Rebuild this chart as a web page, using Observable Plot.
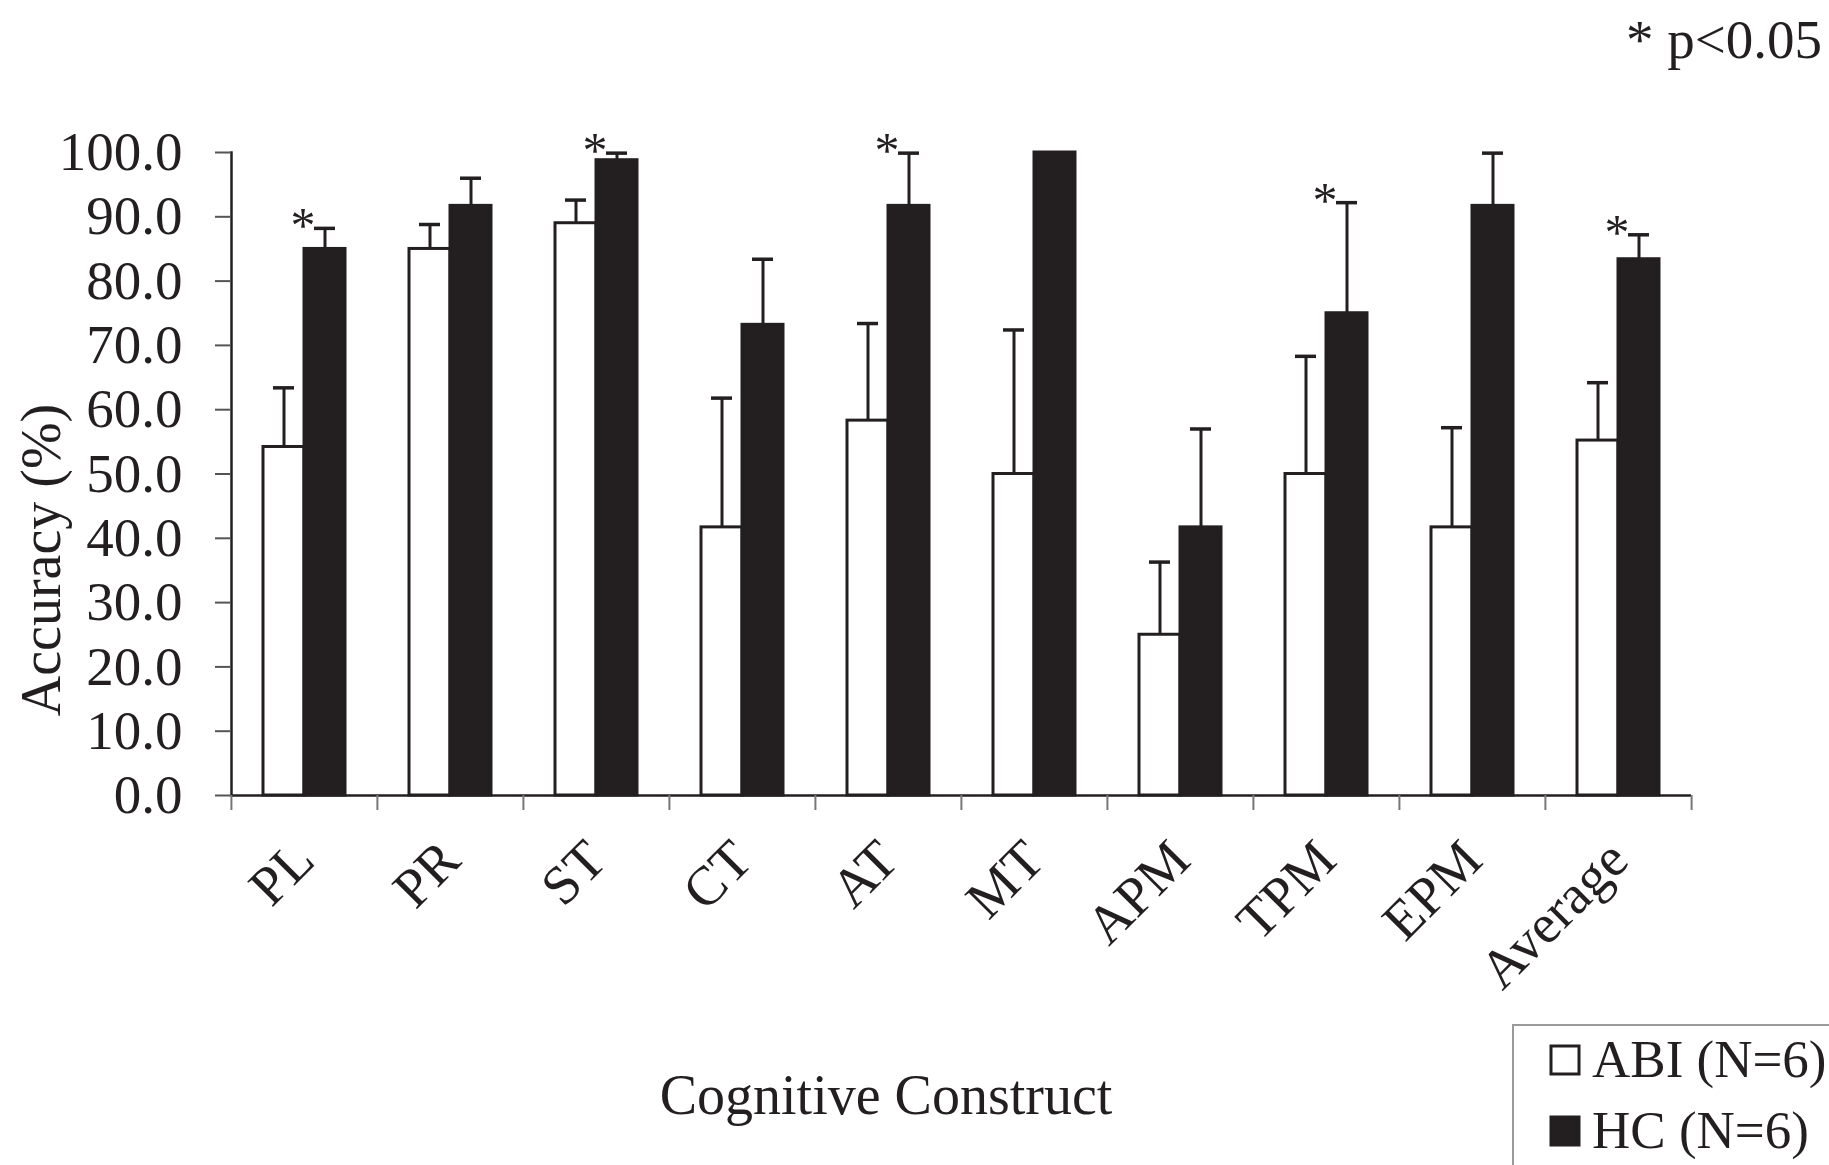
<!DOCTYPE html>
<html><head><meta charset="utf-8">
<script src="https://cdn.jsdelivr.net/npm/d3@7"></script>
<script src="https://cdn.jsdelivr.net/npm/@observablehq/plot@0.6"></script>
<style>
body{margin:0;background:#fff;}
#wrap{position:relative;width:1829px;height:1165px;overflow:hidden;background:#fff;}
#wrap svg{position:absolute;left:0;top:0;}
</style></head><body><div id="wrap"></div>
<script>
// ---- data ----
const categories = ["PL","PR","ST","CT","AT","MT","APM","TPM","EPM","Average"];
const groups = ["ABI","HC"];
const groupLabels = ["ABI (N=6)","HC (N=6)"];
const abiMean = [54.2, 85.0, 89.0, 41.7, 58.3, 50.0, 25.0, 50.0, 41.7, 55.2];
const abiSD   = [ 9.2,  3.8,  3.6, 20.1, 15.1, 22.4, 11.3, 18.3, 15.5,  9.0];
const hcMean  = [85.0, 91.7, 98.8, 73.2, 91.7, 100.0, 41.7, 75.0, 91.7, 83.4];
const hcSD    = [ 3.2,  4.3,  1.1, 10.2,  8.2,  0.0, 15.3, 17.2,  8.2,  3.8];
const significant = ["PL","ST","AT","TPM","Average"];
const yTicks = [0,10,20,30,40,50,60,70,80,90,100];
const yLabel = "Accuracy (%)";
const xLabel = "Cognitive Construct";
const note = "* p<0.05";

// ---- build table ----
const rows = [];
categories.forEach((c, i) => {
  rows.push({cat: c, group: "ABI", mean: abiMean[i], sd: abiSD[i]});
  rows.push({cat: c, group: "HC", mean: hcMean[i], sd: hcSD[i]});
});
const errRows = rows.filter(d => d.sd > 0);
const sigRows = rows.filter(d => d.group === "HC" && significant.includes(d.cat));

const ink = "#231f20";
const W = 1829, H = 1165;
const mL = 230, mR = 137, mT = 152, mB = 370;
const step = (W - mL - mR) / categories.length;
const serif = "Liberation Serif, Times New Roman, serif";

const chart = Plot.plot({
  width: W, height: H,
  marginLeft: mL, marginRight: mR, marginTop: mT, marginBottom: mB,
  style: {fontFamily: serif, color: ink, background: "transparent"},
  fx: {domain: categories, padding: 0, axis: null},
  x: {domain: groups, paddingInner: 0, paddingOuter: 0.74, axis: null},
  y: {domain: [0, 100], axis: null},
  color: {domain: groups, range: ["#ffffff", ink]},
  marks: [
    Plot.barY(rows, {fx: "cat", x: "group", y: "mean", fill: "group", stroke: ink, strokeWidth: 3}),
    Plot.ruleX(errRows, {fx: "cat", x: "group", y1: "mean", y2: d => d.mean + d.sd, stroke: ink, strokeWidth: 3}),
    Plot.tickY(errRows, {fx: "cat", x: "group", y: d => d.mean + d.sd, stroke: ink, strokeWidth: 3.5, insetLeft: 10, insetRight: 10}),
    Plot.ruleY([0], {stroke: ink, strokeWidth: 2.5}),
    Plot.frame({anchor: "left", facetAnchor: "left", stroke: ink, strokeWidth: 2.5}),
    Plot.text(sigRows, {fx: "cat", x: "group", y: d => d.mean + d.sd, text: () => "*", dx: -22, dy: 14, lineAnchor: "bottom", fontSize: 50, fill: ink}),
    Plot.axisY({ticks: yTicks, tickFormat: d => d.toFixed(1), tickSize: 16, tickPadding: 33, fontSize: 55, stroke: "#555", strokeWidth: 2, fill: ink, label: null}),
    Plot.axisFx({anchor: "bottom", tickSize: 15, dx: -step / 2, stroke: "#777", strokeWidth: 2, fill: "none", label: null}),
    Plot.axisFx({anchor: "bottom", ticks: ["Average"], tickSize: 15, dx: step / 2, stroke: "#777", strokeWidth: 2, fill: "none", label: null}),
    Plot.axisFx({anchor: "bottom", tickSize: 0, tickPadding: 55, tickRotate: -45, fontSize: 55, fill: ink, label: null})
  ]
});
const wrap = document.getElementById("wrap");
wrap.appendChild(chart);

// ---- annotations: axis titles, note, legend ----
const ov = d3.select(wrap).append("svg").attr("width", W).attr("height", H)
  .style("font-family", serif).style("pointer-events", "none");
ov.append("text").attr("transform", "translate(60,560) rotate(-90)")
  .attr("text-anchor", "middle").attr("font-size", 56).attr("fill", ink).text(yLabel);
ov.append("text").attr("x", 886).attr("y", 1114).attr("text-anchor", "middle")
  .attr("font-size", 56).attr("fill", ink).text(xLabel);
ov.append("text").attr("x", 1822).attr("y", 58).attr("text-anchor", "end")
  .attr("font-size", 55).attr("fill", ink).text(note);
const lg = ov.append("g");
lg.append("rect").attr("x", 1513).attr("y", 1025).attr("width", 400).attr("height", 300)
  .attr("fill", "none").attr("stroke", "#9a9a9a").attr("stroke-width", 2);
groupLabels.forEach((lab, i) => {
  const y0 = 1046 + i * 71;
  lg.append("rect").attr("x", 1551).attr("y", y0).attr("width", 28).attr("height", 28)
    .attr("fill", i === 0 ? "#fff" : ink).attr("stroke", ink).attr("stroke-width", 3);
  lg.append("text").attr("x", 1592).attr("y", y0 + 31).attr("font-size", 53).attr("fill", ink).text(lab);
});
</script></body></html>
